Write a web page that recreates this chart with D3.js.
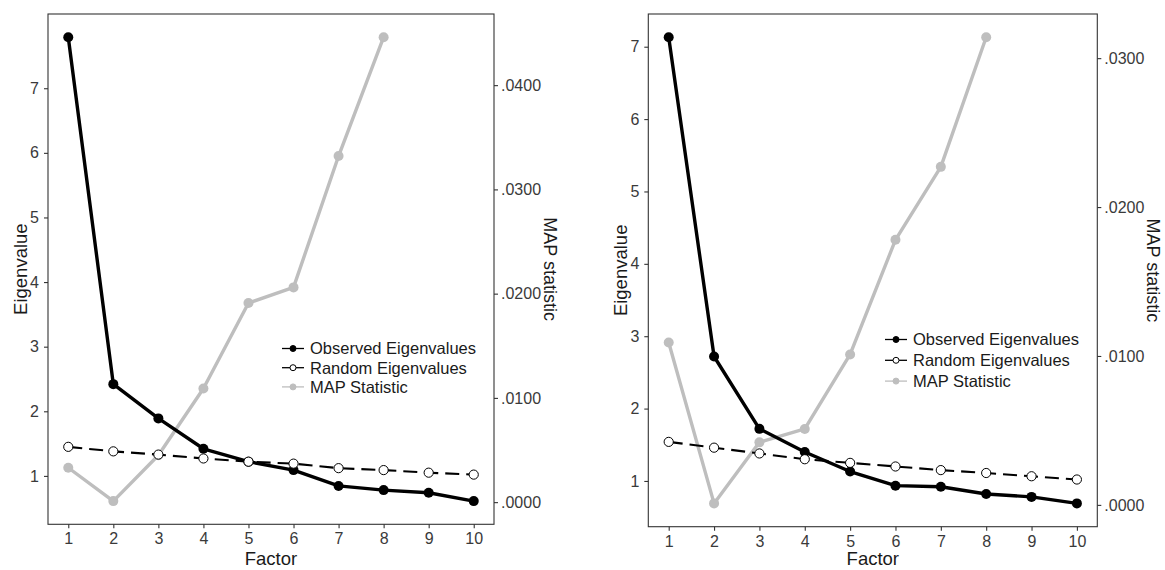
<!DOCTYPE html>
<html>
<head>
<meta charset="utf-8">
<script src="https://cdn.jsdelivr.net/npm/d3@7/dist/d3.min.js"></script>
<style>
  html, body { margin: 0; padding: 0; background: #fff; }
  svg { display: block; font-family: "Liberation Sans", Arial, sans-serif; }
</style>
</head>
<body>
<svg id="chart" width="1165" height="570"></svg>
<script>
// Factors on the x axis (shared by both panels)
const factors = [1, 2, 3, 4, 5, 6, 7, 8, 9, 10];
const mapFactors = [1, 2, 3, 4, 5, 6, 7, 8];

// Panel A (left)
const observedA = [7.79, 2.42, 1.89, 1.42, 1.22, 1.09, 0.845, 0.78, 0.74, 0.61];
const randomA   = [1.45, 1.38, 1.33, 1.27, 1.22, 1.19, 1.12, 1.09, 1.05, 1.02];
const mapA      = [0.0033, 0.0001, 0.0045, 0.0109, 0.0191, 0.0206, 0.0332, 0.0446];
const eigenTicksA = [1, 2, 3, 4, 5, 6, 7];
const mapTicksA   = [0, 0.01, 0.02, 0.03, 0.04];

// Panel B (right)
const observedB = [7.13, 2.72, 1.72, 1.40, 1.13, 0.935, 0.92, 0.82, 0.78, 0.69];
const randomB   = [1.54, 1.46, 1.38, 1.30, 1.25, 1.20, 1.15, 1.11, 1.065, 1.02];
const mapB      = [0.0109, 0.0001, 0.0042, 0.0051, 0.0101, 0.0178, 0.0227, 0.0314];
const eigenTicksB = [1, 2, 3, 4, 5, 6, 7];
const mapTicksB   = [0, 0.01, 0.02, 0.03];

const legendLabels = ["Observed Eigenvalues", "Random Eigenvalues", "MAP Statistic"];
const xTitle = "Factor";
const yTitle = "Eigenvalue";
const y2Title = "MAP statistic";

const svg = d3.select("#chart");
const GREY = "#bebebe";
const AXIS = "#333333";
const TICKTXT = "#3a3a3a";

const fmtMap = v => d3.format(".4f")(v).replace(/^0/, "");

function drawPanel(cfg) {
  const { left, right, top, bottom, observed, random, map, eigenTicks, mapTicks, legend, titleDrop } = cfg;
  const g = svg.append("g");

  // x: continuous scale with 5% padding on each side
  const x = d3.scaleLinear()
    .domain([0.55, 10.45])
    .range([left, right]);

  // y: eigenvalue range with 5% padding
  const [lo, hi] = d3.extent(observed.concat(random));
  const pad = (hi - lo) * 0.05;
  const y = d3.scaleLinear()
    .domain([lo - pad, hi + pad])
    .range([bottom, top]);

  // secondary axis: MAP statistic rescaled onto the observed eigenvalue span
  const [mLo, mHi] = d3.extent(map);
  const [oLo, oHi] = d3.extent(observed);
  const y2 = d3.scaleLinear()
    .domain([mLo, mHi])
    .range([y(oLo), y(oHi)]);

  // panel frame
  g.append("rect")
    .attr("x", left).attr("y", top)
    .attr("width", right - left).attr("height", bottom - top)
    .attr("fill", "none").attr("stroke", AXIS).attr("stroke-width", 1.1);

  // axes
  const xAxis = g.append("g")
    .attr("transform", `translate(0,${bottom})`)
    .call(d3.axisBottom(x).tickValues(factors).tickSize(4).tickPadding(5).tickFormat(d3.format("d")));
  const yAxis = g.append("g")
    .attr("transform", `translate(${left},0)`)
    .call(d3.axisLeft(y).tickValues(eigenTicks).tickSize(4).tickPadding(5).tickFormat(d3.format("d")));
  const y2Axis = g.append("g")
    .attr("transform", `translate(${right},0)`)
    .call(d3.axisRight(y2).tickValues(mapTicks).tickSize(4).tickPadding(3).tickFormat(fmtMap));

  [xAxis, yAxis, y2Axis].forEach(a => {
    a.select(".domain").remove();
    a.selectAll(".tick line").attr("stroke", AXIS).attr("stroke-width", 1.1);
    a.selectAll(".tick text")
      .attr("fill", TICKTXT)
      .style("font-size", "16px")
      .style("font-family", "'Liberation Sans', Arial, sans-serif");
  });
  xAxis.selectAll(".tick text").attr("dy", null).attr("y", 20);

  // axis titles
  g.append("text")
    .attr("x", (left + right) / 2).attr("y", bottom + titleDrop)
    .attr("text-anchor", "middle")
    .attr("fill", "#1a1a1a")
    .style("font-size", "18.5px")
    .text(xTitle);
  g.append("text")
    .attr("transform", `translate(${left - 21},${(top + bottom) / 2}) rotate(-90)`)
    .attr("text-anchor", "middle")
    .attr("fill", "#1a1a1a")
    .style("font-size", "18.5px")
    .text(yTitle);
  g.append("text")
    .attr("transform", `translate(${right + 50},${(top + bottom) / 2}) rotate(90)`)
    .attr("text-anchor", "middle")
    .attr("fill", "#1a1a1a")
    .style("font-size", "18px")
    .text(y2Title);

  // MAP statistic (drawn first, beneath the eigenvalue lines)
  const mapPts = mapFactors.map((f, i) => [f, map[i]]);
  g.append("path")
    .datum(mapPts)
    .attr("fill", "none").attr("stroke", GREY).attr("stroke-width", 3.4)
    .attr("stroke-linejoin", "round")
    .attr("d", d3.line().x(d => x(d[0])).y(d => y2(d[1])));
  g.selectAll(null).data(mapPts).enter().append("circle")
    .attr("cx", d => x(d[0])).attr("cy", d => y2(d[1]))
    .attr("r", 5).attr("fill", GREY);

  // observed eigenvalues
  const obsPts = factors.map((f, i) => [f, observed[i]]);
  g.append("path")
    .datum(obsPts)
    .attr("fill", "none").attr("stroke", "#000").attr("stroke-width", 3.4)
    .attr("stroke-linejoin", "round")
    .attr("d", d3.line().x(d => x(d[0])).y(d => y(d[1])));
  g.selectAll(null).data(obsPts).enter().append("circle")
    .attr("cx", d => x(d[0])).attr("cy", d => y(d[1]))
    .attr("r", 5).attr("fill", "#000");

  // random (parallel analysis) eigenvalues
  const rndPts = factors.map((f, i) => [f, random[i]]);
  g.append("path")
    .datum(rndPts)
    .attr("fill", "none").attr("stroke", "#000").attr("stroke-width", 2.1)
    .attr("stroke-dasharray", "14,7")
    .attr("d", d3.line().x(d => x(d[0])).y(d => y(d[1])));
  g.selectAll(null).data(rndPts).enter().append("circle")
    .attr("cx", d => x(d[0])).attr("cy", d => y(d[1]))
    .attr("r", 4.6).attr("fill", "#fff").attr("stroke", "#000").attr("stroke-width", 1);

  // legend
  const lg = g.append("g");
  const keyStyles = [
    { stroke: "#000", fill: "#000" },
    { stroke: "#000", fill: "#fff" },
    { stroke: GREY, fill: GREY }
  ];
  legendLabels.forEach((lab, i) => {
    const cy = legend.y + i * legend.step;
    const k = keyStyles[i];
    lg.append("line")
      .attr("x1", legend.x).attr("x2", legend.x + 22)
      .attr("y1", cy).attr("y2", cy)
      .attr("stroke", k.stroke).attr("stroke-width", 1.3);
    lg.append("circle")
      .attr("cx", legend.x + 11).attr("cy", cy).attr("r", 3)
      .attr("fill", k.fill).attr("stroke", k.stroke).attr("stroke-width", 1);
    lg.append("text")
      .attr("x", legend.x + 28).attr("y", cy)
      .attr("dy", "0.36em")
      .attr("fill", "#1a1a1a")
      .style("font-size", "16.5px")
      .text(lab);
  });
}

drawPanel({
  left: 48, right: 494, top: 14, bottom: 524.3, titleDrop: 41,
  observed: observedA, random: randomA, map: mapA,
  eigenTicks: eigenTicksA, mapTicks: mapTicksA,
  legend: { x: 282, y: 348.5, step: 19.2 }
});

drawPanel({
  left: 648.3, right: 1097.3, top: 14, bottom: 526.7, titleDrop: 38.5,
  observed: observedB, random: randomB, map: mapB,
  eigenTicks: eigenTicksB, mapTicks: mapTicksB,
  legend: { x: 885, y: 339.5, step: 20.8 }
});
</script>
</body>
</html>
